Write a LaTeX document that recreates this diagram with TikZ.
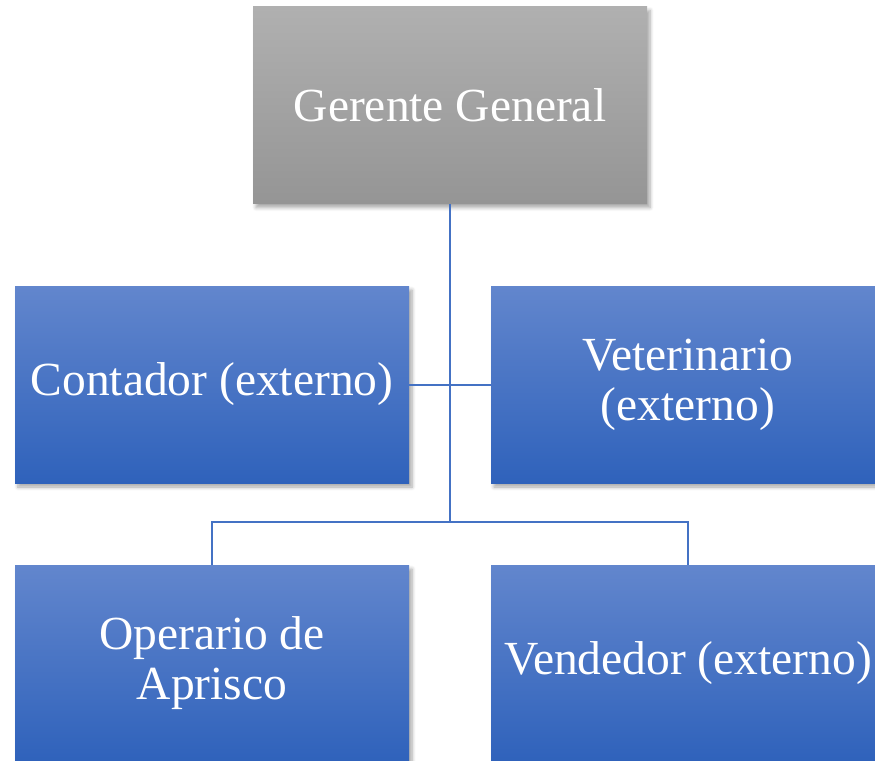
\documentclass[tikz,border=0pt]{standalone}
\usepackage{fontspec}
\setmainfont{Liberation Serif}
\usetikzlibrary{shadows.blur}

\definecolor{boxtop}{HTML}{6286CD}
\definecolor{boxbot}{HTML}{2F62BB}
\definecolor{greytop}{HTML}{B0B0B0}
\definecolor{greybot}{HTML}{959595}
\definecolor{linkblue}{HTML}{4472C4}

\tikzset{
  post/.style={rectangle, minimum width=197pt, minimum height=98.5pt, inner sep=0pt,
    top color=boxtop, bottom color=boxbot, text=white, align=center,
    font=\fontsize{23.75}{25}\selectfont,
    blur shadow={shadow xshift=1.5pt, shadow yshift=-2pt, shadow blur steps=6, shadow opacity=35}},
  boss/.style={post, top color=greytop, bottom color=greybot},
  link/.style={draw=linkblue, line width=1pt}
}

\begin{document}
\begin{tikzpicture}[x=0.5pt, y=-0.5pt]

\useasboundingbox (0,0) rectangle (875,761);
\node[boss] (gerente) at (450,105) {Gerente General};
\node[post] (contador) at (212,384.5) {Contador (externo)};
\node[post] (veterinario) at (688,384.5) {Veterinario\\(externo)};
\node[post] (operario) at (212,663.5) {Operario de\\Aprisco};
\node[post] (vendedor) at (688,663.5) {Vendedor (externo)};
\coordinate (split) at (450,522);
\draw[link] (gerente.south) -- (split);
\draw[link] (contador.east) -- (veterinario.west);
\draw[link] (split) -| (operario.north);
\draw[link] (split) -| (vendedor.north);

\end{tikzpicture}
\end{document}
